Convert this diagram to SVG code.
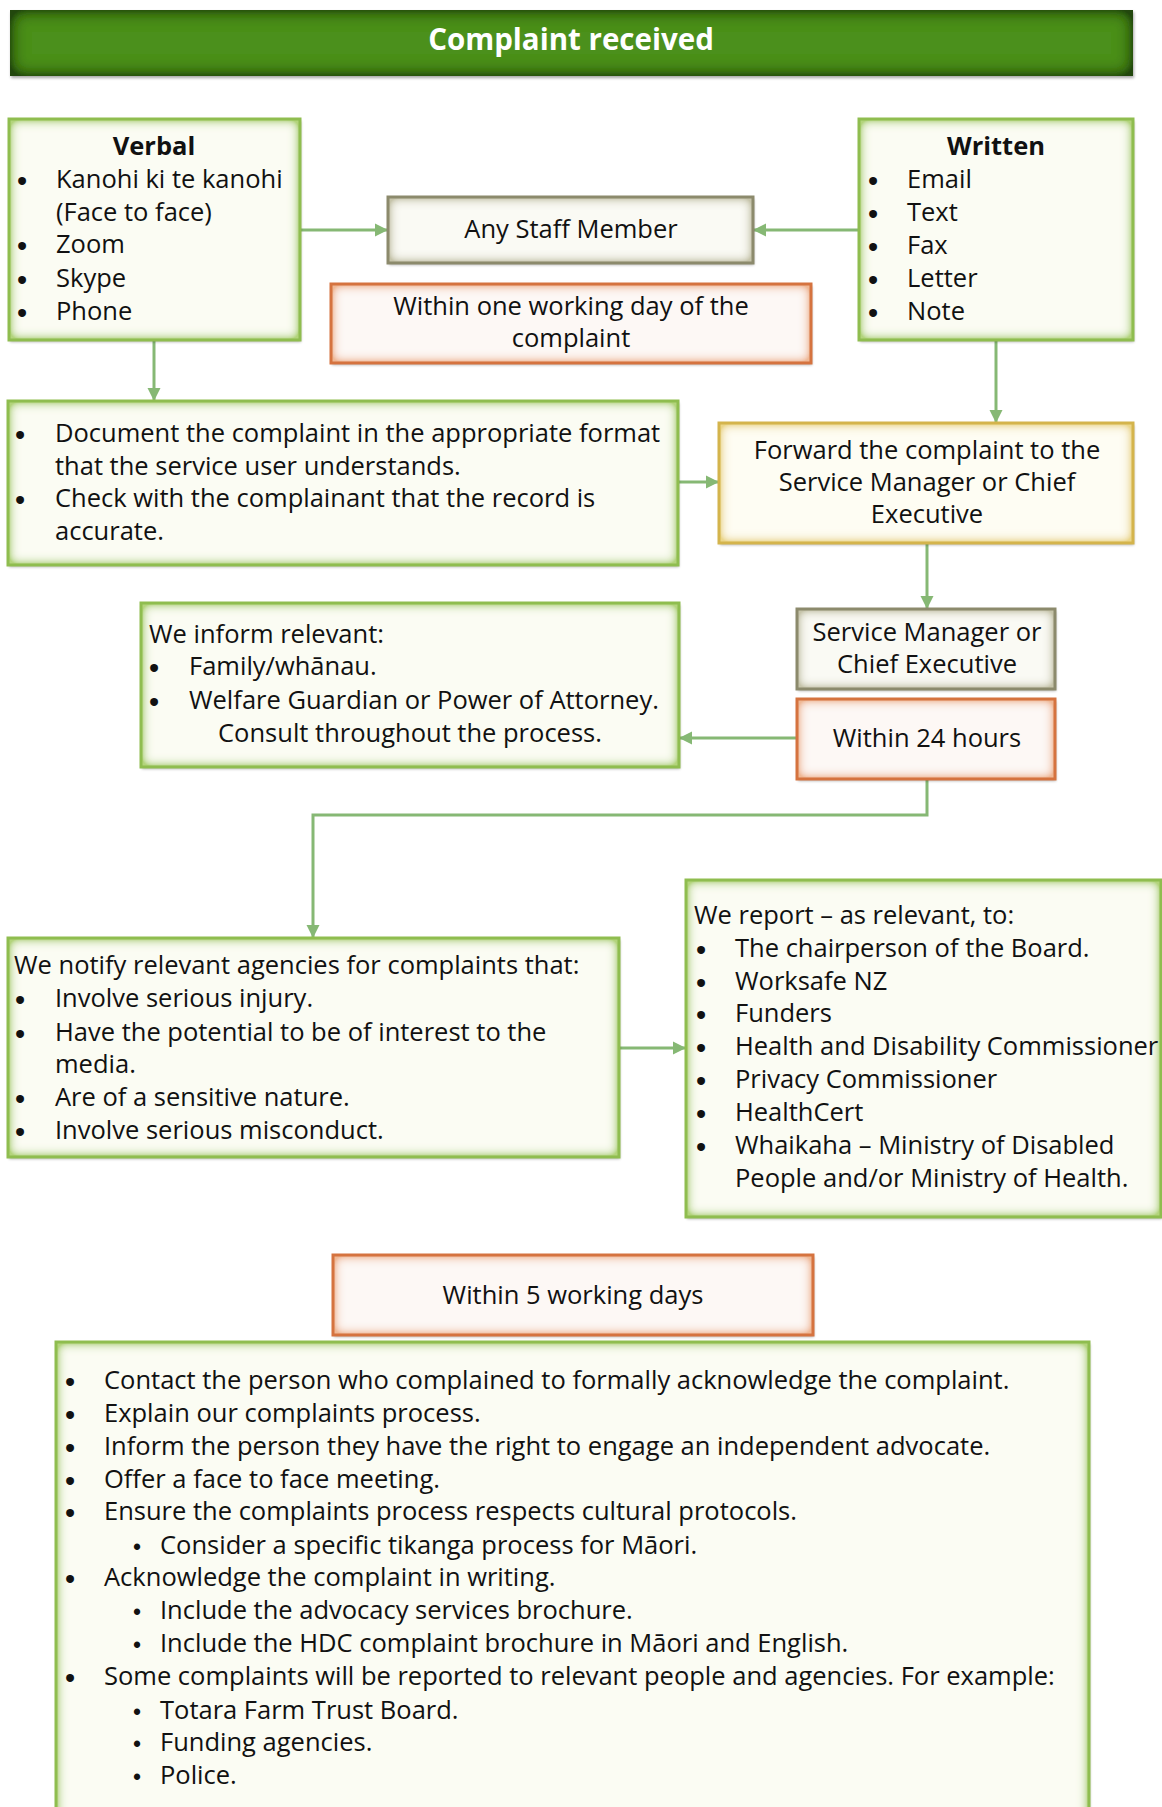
<svg xmlns="http://www.w3.org/2000/svg" width="1162" height="1807" viewBox="0 0 1162 1807">
<defs>
<style>
text{font-family:"Open Sans","Noto Sans","DejaVu Sans",sans-serif;font-size:25.5px;fill:#111}
.c{text-anchor:middle}
.bd{font-weight:bold}
.b{font-family:"Liberation Sans",Arial,sans-serif;font-size:29px;text-anchor:middle}
.sb{font-family:"Liberation Sans",Arial,sans-serif;font-size:23px;text-anchor:middle}
.title{font-size:29.5px;font-weight:bold;fill:#fff;text-anchor:middle}
.gf{fill:#fbfcf3;filter:url(#fG)}
.gs{fill:none;stroke:#8fbd4f;stroke-width:3}
.of{fill:#fdf8f5;filter:url(#fO)}
.os{fill:none;stroke:#d5733f;stroke-width:3}
.kf{fill:#fafaf4;filter:url(#fK)}
.ks{fill:none;stroke:#8c8a6c;stroke-width:3}
.yf{fill:#fefdf3;filter:url(#fY)}
.ys{fill:none;stroke:#d4b44c;stroke-width:3}
.conn path{fill:none;stroke:#86b874;stroke-width:3;marker-end:url(#ah)}
</style>
<marker id="ah" viewBox="0 0 10 10" refX="10" refY="5" markerWidth="13" markerHeight="14" markerUnits="userSpaceOnUse" orient="auto">
<path d="M0,0 L10,5 L0,10 z" fill="#86b874"/>
</marker>
<filter id="fG" x="-3%" y="-3%" width="106%" height="110%">
<feGaussianBlur in="SourceAlpha" stdDeviation="6" result="b"/>
<feComposite in="SourceAlpha" in2="b" operator="arithmetic" k2="2.2" k3="-2.2" result="e"/>
<feFlood flood-color="#b3d47c" result="c"/>
<feComposite in="c" in2="e" operator="in" result="g"/>
<feGaussianBlur in="SourceAlpha" stdDeviation="1.5" result="sb"/>
<feOffset in="sb" dx="1" dy="2" result="so"/>
<feComponentTransfer in="so" result="sh"><feFuncA type="linear" slope="0.3"/></feComponentTransfer>
<feMerge><feMergeNode in="sh"/><feMergeNode in="SourceGraphic"/><feMergeNode in="g"/></feMerge>
</filter>
<filter id="fO" x="-3%" y="-3%" width="106%" height="110%">
<feGaussianBlur in="SourceAlpha" stdDeviation="6" result="b"/>
<feComposite in="SourceAlpha" in2="b" operator="arithmetic" k2="2.2" k3="-2.2" result="e"/>
<feFlood flood-color="#efb895" result="c"/>
<feComposite in="c" in2="e" operator="in" result="g"/>
<feGaussianBlur in="SourceAlpha" stdDeviation="1.5" result="sb"/>
<feOffset in="sb" dx="1" dy="2" result="so"/>
<feComponentTransfer in="so" result="sh"><feFuncA type="linear" slope="0.3"/></feComponentTransfer>
<feMerge><feMergeNode in="sh"/><feMergeNode in="SourceGraphic"/><feMergeNode in="g"/></feMerge>
</filter>
<filter id="fK" x="-3%" y="-3%" width="106%" height="110%">
<feGaussianBlur in="SourceAlpha" stdDeviation="6" result="b"/>
<feComposite in="SourceAlpha" in2="b" operator="arithmetic" k2="2.2" k3="-2.2" result="e"/>
<feFlood flood-color="#c6c4aa" result="c"/>
<feComposite in="c" in2="e" operator="in" result="g"/>
<feGaussianBlur in="SourceAlpha" stdDeviation="1.5" result="sb"/>
<feOffset in="sb" dx="1" dy="2" result="so"/>
<feComponentTransfer in="so" result="sh"><feFuncA type="linear" slope="0.3"/></feComponentTransfer>
<feMerge><feMergeNode in="sh"/><feMergeNode in="SourceGraphic"/><feMergeNode in="g"/></feMerge>
</filter>
<filter id="fY" x="-3%" y="-3%" width="106%" height="110%">
<feGaussianBlur in="SourceAlpha" stdDeviation="6" result="b"/>
<feComposite in="SourceAlpha" in2="b" operator="arithmetic" k2="2.2" k3="-2.2" result="e"/>
<feFlood flood-color="#ebd689" result="c"/>
<feComposite in="c" in2="e" operator="in" result="g"/>
<feGaussianBlur in="SourceAlpha" stdDeviation="1.5" result="sb"/>
<feOffset in="sb" dx="1" dy="2" result="so"/>
<feComponentTransfer in="so" result="sh"><feFuncA type="linear" slope="0.3"/></feComponentTransfer>
<feMerge><feMergeNode in="sh"/><feMergeNode in="SourceGraphic"/><feMergeNode in="g"/></feMerge>
</filter>
<filter id="fT" x="-2%" y="-10%" width="104%" height="130%">
<feGaussianBlur in="SourceAlpha" stdDeviation="9" result="b"/>
<feComposite in="SourceAlpha" in2="b" operator="arithmetic" k2="1.8" k3="-1.8" result="e"/>
<feFlood flood-color="#22470b" result="c"/>
<feComposite in="c" in2="e" operator="in" result="g"/>
<feGaussianBlur in="SourceAlpha" stdDeviation="1.5" result="sb"/>
<feOffset in="sb" dx="1" dy="2" result="so"/>
<feComponentTransfer in="so" result="sh"><feFuncA type="linear" slope="0.35"/></feComponentTransfer>
<feMerge><feMergeNode in="sh"/><feMergeNode in="SourceGraphic"/><feMergeNode in="g"/></feMerge>
</filter>
</defs>
<rect width="1162" height="1807" fill="#fff"/>

<g id="title">
<rect x="10" y="10" width="1123" height="66" fill="#4b901f" filter="url(#fT)"/>
<text class="title" x="571" y="50">Complaint received</text>
</g>

<g id="conn" class="conn">
<path d="M300,230 H388"/>
<path d="M859,230 H753"/>
<path d="M154,340 V401"/>
<path d="M996,340 V423"/>
<path d="M678,482 H719"/>
<path d="M927,543 V609"/>
<path d="M797,738 H679"/>
<path d="M927,779 V815 H313 V938"/>
<path d="M619,1048 H686"/>
</g>

<g id="verbal">
<rect class="gf" x="9" y="119" width="291" height="221"/>
<rect class="gs" x="9" y="119" width="291" height="221"/>
<text class="c bd" x="154" y="155">Verbal</text>
<text class="b" x="22" y="191">•</text><text x="56" y="188">Kanohi ki te kanohi</text>
<text x="56" y="221">(Face to face)</text>
<text class="b" x="22" y="256">•</text><text x="56" y="253">Zoom</text>
<text class="b" x="22" y="290">•</text><text x="56" y="287">Skype</text>
<text class="b" x="22" y="323">•</text><text x="56" y="320">Phone</text>
</g>

<g id="written">
<rect class="gf" x="859" y="119" width="274" height="221"/>
<rect class="gs" x="859" y="119" width="274" height="221"/>
<text class="c bd" x="996" y="155">Written</text>
<text class="b" x="873" y="191">•</text><text x="907" y="188">Email</text>
<text class="b" x="873" y="224">•</text><text x="907" y="221">Text</text>
<text class="b" x="873" y="257">•</text><text x="907" y="254">Fax</text>
<text class="b" x="873" y="290">•</text><text x="907" y="287">Letter</text>
<text class="b" x="873" y="323">•</text><text x="907" y="320">Note</text>
</g>

<g id="anystaff">
<rect class="kf" x="388" y="197" width="365" height="66"/>
<rect class="ks" x="388" y="197" width="365" height="66"/>
<text class="c" x="571" y="238">Any Staff Member</text>
</g>

<g id="withinone">
<rect class="of" x="331" y="284" width="480" height="79"/>
<rect class="os" x="331" y="284" width="480" height="79"/>
<text class="c" x="571" y="315">Within one working day of the</text>
<text class="c" x="571" y="347">complaint</text>
</g>

<g id="document">
<rect class="gf" x="8" y="401" width="670" height="164"/>
<rect class="gs" x="8" y="401" width="670" height="164"/>
<text class="b" x="20" y="445">•</text><text x="55" y="442">Document the complaint in the appropriate format</text>
<text x="55" y="475">that the service user understands.</text>
<text class="b" x="20" y="510">•</text><text x="55" y="507">Check with the complainant that the record is</text>
<text x="55" y="540">accurate.</text>
</g>

<g id="forward">
<rect class="yf" x="719" y="423" width="414" height="120"/>
<rect class="ys" x="719" y="423" width="414" height="120"/>
<text class="c" x="927" y="459">Forward the complaint to the</text>
<text class="c" x="927" y="491">Service Manager or Chief</text>
<text class="c" x="927" y="523">Executive</text>
</g>

<g id="inform">
<rect class="gf" x="141" y="603" width="538" height="164"/>
<rect class="gs" x="141" y="603" width="538" height="164"/>
<text x="149" y="643">We inform relevant:</text>
<text class="b" x="154" y="678">•</text><text x="189" y="675">Family/whānau.</text>
<text class="b" x="154" y="712">•</text><text x="189" y="709">Welfare Guardian or Power of Attorney.</text>
<text class="c" x="410" y="742">Consult throughout the process.</text>
</g>

<g id="smce">
<rect class="kf" x="797" y="609" width="258" height="80"/>
<rect class="ks" x="797" y="609" width="258" height="80"/>
<text class="c" x="927" y="641">Service Manager or</text>
<text class="c" x="927" y="673">Chief Executive</text>
</g>

<g id="within24">
<rect class="of" x="797" y="699" width="258" height="80"/>
<rect class="os" x="797" y="699" width="258" height="80"/>
<text class="c" x="927" y="747">Within 24 hours</text>
</g>

<g id="notify">
<rect class="gf" x="8" y="938" width="611" height="219"/>
<rect class="gs" x="8" y="938" width="611" height="219"/>
<text x="14" y="974">We notify relevant agencies for complaints that:</text>
<text class="b" x="20" y="1010">•</text><text x="55" y="1007">Involve serious injury.</text>
<text class="b" x="20" y="1044">•</text><text x="55" y="1041">Have the potential to be of interest to the</text>
<text x="55" y="1073">media.</text>
<text class="b" x="20" y="1109">•</text><text x="55" y="1106">Are of a sensitive nature.</text>
<text class="b" x="20" y="1142">•</text><text x="55" y="1139">Involve serious misconduct.</text>
</g>

<g id="report">
<rect class="gf" x="686" y="880" width="475" height="337"/>
<rect class="gs" x="686" y="880" width="475" height="337"/>
<text x="694" y="924">We report – as relevant, to:</text>
<text class="b" x="701" y="960">•</text><text x="735" y="957">The chairperson of the Board.</text>
<text class="b" x="701" y="993">•</text><text x="735" y="990">Worksafe NZ</text>
<text class="b" x="701" y="1025">•</text><text x="735" y="1022">Funders</text>
<text class="b" x="701" y="1058">•</text><text x="735" y="1055">Health and Disability Commissioner</text>
<text class="b" x="701" y="1091">•</text><text x="735" y="1088">Privacy Commissioner</text>
<text class="b" x="701" y="1124">•</text><text x="735" y="1121">HealthCert</text>
<text class="b" x="701" y="1157">•</text><text x="735" y="1154">Whaikaha – Ministry of Disabled</text>
<text x="735" y="1187">People and/or Ministry of Health.</text>
</g>

<g id="within5">
<rect class="of" x="333" y="1255" width="480" height="80"/>
<rect class="os" x="333" y="1255" width="480" height="80"/>
<text class="c" x="573" y="1304">Within 5 working days</text>
</g>

<g id="actions">
<rect class="gf" x="56" y="1342" width="1033" height="500"/>
<rect class="gs" x="56" y="1342" width="1033" height="500"/>
<text class="b" x="70" y="1392">•</text><text x="104" y="1389">Contact the person who complained to formally acknowledge the complaint.</text>
<text class="b" x="70" y="1425">•</text><text x="104" y="1422">Explain our complaints process.</text>
<text class="b" x="70" y="1458">•</text><text x="104" y="1455">Inform the person they have the right to engage an independent advocate.</text>
<text class="b" x="70" y="1491">•</text><text x="104" y="1488">Offer a face to face meeting.</text>
<text class="b" x="70" y="1523">•</text><text x="104" y="1520">Ensure the complaints process respects cultural protocols.</text>
<text class="sb" x="137" y="1555">•</text><text x="160" y="1554">Consider a specific tikanga process for Māori.</text>
<text class="b" x="70" y="1589">•</text><text x="104" y="1586">Acknowledge the complaint in writing.</text>
<text class="sb" x="137" y="1620">•</text><text x="160" y="1619">Include the advocacy services brochure.</text>
<text class="sb" x="137" y="1653">•</text><text x="160" y="1652">Include the HDC complaint brochure in Māori and English.</text>
<text class="b" x="70" y="1688">•</text><text x="104" y="1685">Some complaints will be reported to relevant people and agencies. For example:</text>
<text class="sb" x="137" y="1720">•</text><text x="160" y="1719">Totara Farm Trust Board.</text>
<text class="sb" x="137" y="1752">•</text><text x="160" y="1751">Funding agencies.</text>
<text class="sb" x="137" y="1785">•</text><text x="160" y="1784">Police.</text>
</g>
</svg>
